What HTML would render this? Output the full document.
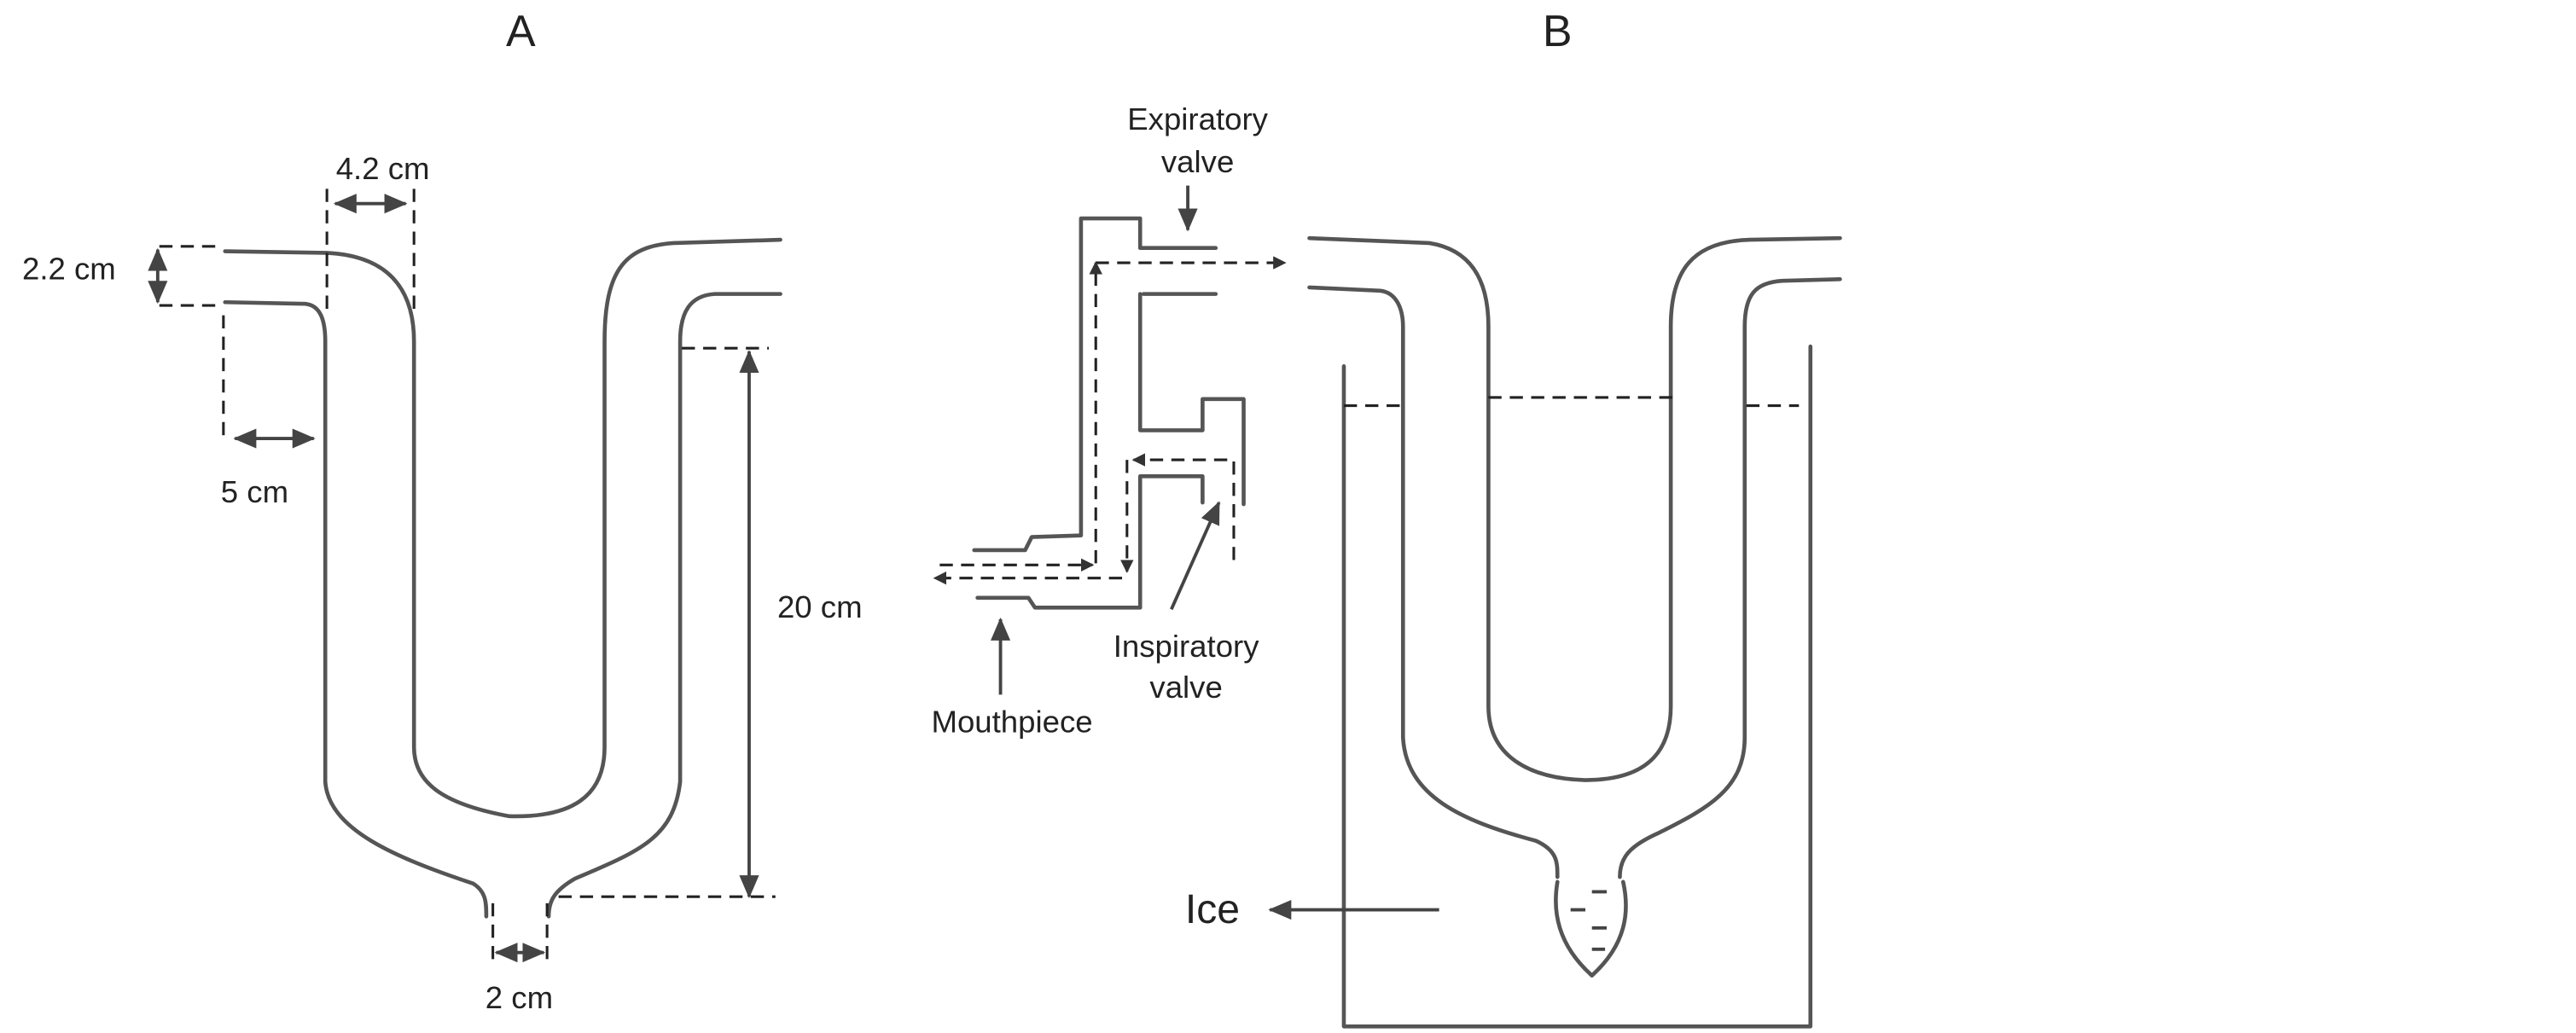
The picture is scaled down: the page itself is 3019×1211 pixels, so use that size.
<!DOCTYPE html>
<html><head><meta charset="utf-8"><style>
html,body{margin:0;padding:0;background:#fff;}
svg{display:block;}
text{font-family:"Liberation Sans",sans-serif;fill:#222;}
</style></head><body>
<svg width="3019" height="1211" viewBox="0 0 1568 629" preserveAspectRatio="none" xmlns="http://www.w3.org/2000/svg">
<defs>
<marker id="ah" markerUnits="userSpaceOnUse" markerWidth="14" markerHeight="12" viewBox="0 0 14 12" refX="13" refY="6" orient="auto-start-reverse"><path d="M0,0 L14,6 L0,12 z" fill="#444"/></marker>
<marker id="sa" markerUnits="userSpaceOnUse" markerWidth="8" markerHeight="8" viewBox="0 0 8 8" refX="7" refY="4" orient="auto-start-reverse"><path d="M0,0 L8,4 L0,8 z" fill="#333"/></marker>
</defs>
<g fill="none" stroke="#555" stroke-width="2.4" stroke-linecap="round" stroke-linejoin="round">
<!-- Tube A -->
<path d="M137,153 L199,154 C240,156 252,180 252,208 L252,455 C252,478 272,490 310,497 C348,498 368,485 368,455 L368,208 C368,165 380,150 410,148 L475,146"/>
<path d="M137,184 L186,185 C195,186 198,195 198,208 L198,476 C200,505 240,522 288,538 C296,543 296,550 296,558"/>
<path d="M334,558 C334,548 338,542 350,535 C390,518 410,510 414,476 L414,208 C414,190 420,180 435,179 L475,179"/>
<!-- Tube B -->
<path d="M797,145 L870,148 C895,152 906,170 906,199 L906,430 C906,460 930,474 965,475 C1000,475 1017,460 1017,430 L1017,199 C1017,165 1030,147 1065,146 L1120,145"/>
<path d="M797,175 L840,177 C850,178 854,188 854,199 L854,449 C856,485 890,500 935,512 C948,518 948,525 948,534"/>
<path d="M986,534 C986,522 992,515 1010,507 C1040,492 1062,480 1062,449 L1062,199 C1062,180 1068,172 1085,171 L1120,170"/>
<path d="M948,537 C945,555 948,575 969,594 C990,575 992,555 988,537"/>
<!-- container -->
<path d="M818,223 L818,625 L1102,625 L1102,211"/>
<!-- valve -->
<path d="M593,335 L624,335 L628,327 L658,326 L658,133 L694,133 L694,151 L740,151"/>
<path d="M696,179 L740,179"/>
<path d="M694,179 L694,262 L732,262 L732,243 L757,243 L757,307"/>
<path d="M595,364 L626,364 L630,370 L694,370 L694,290 L732,290 L732,306"/>
</g>
<g fill="none" stroke="#444" stroke-width="2" >
<path d="M609,423 L609,377" marker-end="url(#ah)"/>
<path d="M723,113 L723,140" marker-end="url(#ah)"/>
<path d="M713,371 L742,306" marker-end="url(#ah)"/>
<path d="M876,554 L773,554" marker-end="url(#ah)"/>
<path d="M96,152 L96,184" marker-start="url(#ah)" marker-end="url(#ah)"/>
<path d="M204,124 L247,124" marker-start="url(#ah)" marker-end="url(#ah)"/>
<path d="M143,267 L191,267" marker-start="url(#ah)" marker-end="url(#ah)"/>
<path d="M456,214 L456,546" marker-start="url(#ah)" marker-end="url(#ah)"/>
<path d="M302,580 L331,580" marker-start="url(#ah)" marker-end="url(#ah)"/>
</g>
<g fill="none" stroke="#222" stroke-width="1.6" stroke-dasharray="8,5">
<path d="M97,150 L132,150 M97,186 L132,186"/>
<path d="M199,115 L199,193 M252,115 L252,193"/>
<path d="M136,192 L136,268"/>
<path d="M415,212 L468,212 M340,546 L472,546"/>
<path d="M300,550 L300,586 M333,550 L333,586"/>
<path d="M818,247 L853,247 M906,242 L1019,242 M1063,247 L1095,247"/>
<path d="M572,344 L665,344" marker-end="url(#sa)"/>
<path d="M667,160 L782,160" marker-end="url(#sa)"/>
<path d="M667,343 L667,160" marker-end="url(#sa)"/>
<path d="M751,341 L751,280 L690,280" marker-end="url(#sa)"/>
<path d="M686,280 L686,348" marker-end="url(#sa)"/>
<path d="M683,352 L569,352" marker-end="url(#sa)"/>
</g>
<text x="317" y="28" font-size="27" text-anchor="middle">A</text>
<text x="948" y="28" font-size="27" text-anchor="middle">B</text>
<text x="42" y="170" font-size="19" text-anchor="middle">2.2 cm</text>
<text x="233" y="109" font-size="19" text-anchor="middle">4.2 cm</text>
<text x="155" y="306" font-size="19" text-anchor="middle">5 cm</text>
<text x="499" y="376" font-size="19" text-anchor="middle">20 cm</text>
<text x="316" y="614" font-size="19" text-anchor="middle">2 cm</text>
<text x="729" y="79" font-size="19" text-anchor="middle">Expiratory</text>
<text x="729" y="105" font-size="19" text-anchor="middle">valve</text>
<text x="722" y="400" font-size="19" text-anchor="middle">Inspiratory</text>
<text x="722" y="425" font-size="19" text-anchor="middle">valve</text>
<text x="616" y="446" font-size="19" text-anchor="middle">Mouthpiece</text>
<text x="738" y="562" font-size="25" text-anchor="middle">Ice</text>
<g stroke="#444" stroke-width="2">
<path d="M969,543 L978,543 M956,554 L965,554 M969,565 L978,565 M969,578 L977,578"/>
</g>
</svg>
</body></html>
